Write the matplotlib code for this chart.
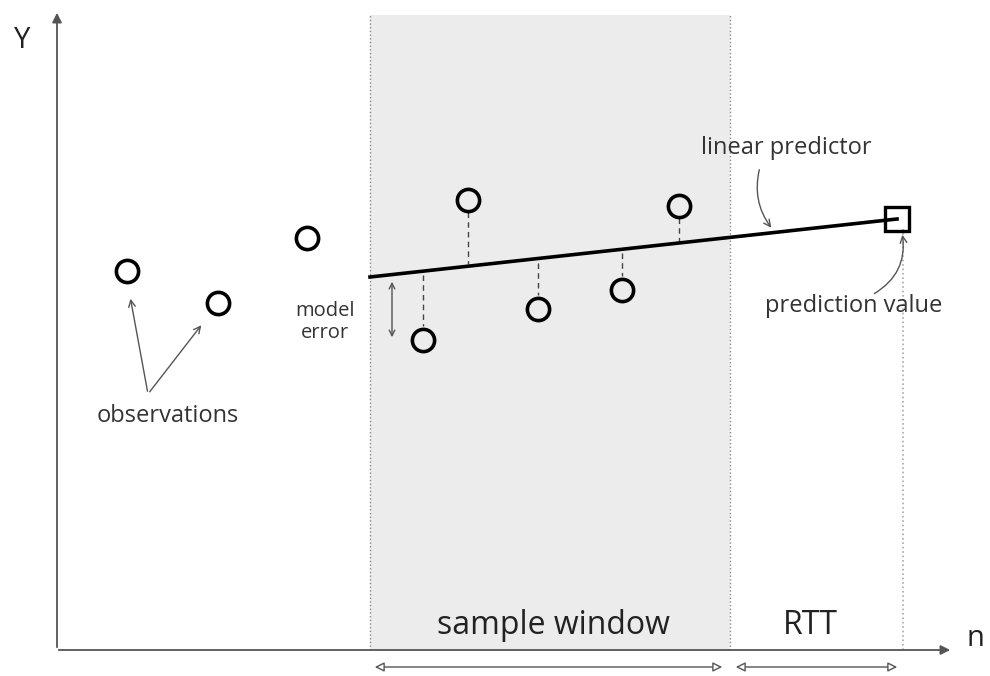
import matplotlib.pyplot as plt
import numpy as np

# observations (n, Y) - axis origin at (0, 0)
obs_n = [70, 161, 250, 366, 411, 481, 565, 622]
obs_y = [379, 347, 412, 310, 450, 341, 360, 444]
window_idx = [3, 4, 5, 6, 7]          # observations inside the sample window

window = (313, 673)                    # sample window span on n
rtt_end = 846                          # end of RTT span
line_start = (313, 373)                # linear predictor from ...
pred = (840, 431)                      # ... to prediction value

plt.rcParams['font.family'] = ['Open Sans', 'DejaVu Sans']
gray = '#555555'
txt = '#333333'

fig = plt.figure(figsize=(9.9, 6.76), dpi=100)
ax = fig.add_axes([0, 0, 1, 1])
ax.set_xlim(-57, 933)
ax.set_ylim(-26, 650)
ax.axis('off')

top = 635
# shaded sample window
ax.fill_between(window, 0, top, color='#ececec', lw=0, zorder=0)
ax.plot([window[0]] * 2, [0, top], ls=':', color='#888888', lw=1)
ax.plot([window[1]] * 2, [0, top], ls=':', color='#888888', lw=1)
ax.plot([rtt_end] * 2, [0, pred[1] - 10], ls=':', color='#aaaaaa', lw=1.2)

# axes with arrows
ax.annotate('', xy=(0, 640), xytext=(0, 0),
            arrowprops=dict(arrowstyle='-|>', color=gray, lw=1.3, mutation_scale=14))
ax.annotate('', xy=(896, 0), xytext=(-1, 0),
            arrowprops=dict(arrowstyle='-|>', color=gray, lw=1.3, mutation_scale=14))
ax.text(-35, 610, 'Y', fontsize=21, ha='center', va='center', color='#222222')
ax.text(918, 12, 'n', fontsize=21, ha='center', va='center', color='#222222')

# linear predictor
slope = (pred[1] - line_start[1]) / (pred[0] - line_start[0])
ax.plot([line_start[0], pred[0]], [line_start[1], pred[1]], color='black', lw=2.6, zorder=3)

# residual dashes
for i in window_idx:
    n, y = obs_n[i], obs_y[i]
    ly = line_start[1] + slope * (n - line_start[0])
    if y < ly:
        ax.plot([n, n], [ly - 4, y + 14], ls=(0, (4, 3)), color='#444444', lw=1)
    else:
        ax.plot([n, n], [y - 12, ly + 2], ls=(0, (4, 3)), color='#444444', lw=1)

ax.plot(obs_n, obs_y, 'o', ms=16, mfc='none', mec='black', mew=2.6, zorder=4)
ax.plot(pred[0], pred[1], 's', ms=17, mfc='none', mec='black', mew=2.4, zorder=4)

# model error arrow
ax.annotate('', xy=(335, 310), xytext=(335, 371),
            arrowprops=dict(arrowstyle='<->', color=gray, lw=1, mutation_scale=10))
ax.text(268, 339, 'model', fontsize=14.5, ha='center', va='center', color=txt)
ax.text(268, 317, 'error', fontsize=14.5, ha='center', va='center', color=txt)

# observations label
ax.text(111, 234, 'observations', fontsize=17, ha='center', va='center', color=txt)
ax.annotate('', xy=(73, 354), xytext=(91, 256),
            arrowprops=dict(arrowstyle='->', color=gray, lw=1, mutation_scale=12))
ax.annotate('', xy=(146, 327), xytext=(91, 256),
            arrowprops=dict(arrowstyle='->', color=gray, lw=1, mutation_scale=12))

# linear predictor label
ax.text(729, 502, 'linear predictor', fontsize=17, ha='center', va='center', color=txt)
ax.annotate('', xy=(716, 420), xytext=(703, 483),
            arrowprops=dict(arrowstyle='->', color=gray, lw=1, mutation_scale=12,
                            connectionstyle='arc3,rad=0.25'))

# prediction value label
ax.text(797, 344, 'prediction value', fontsize=17, ha='center', va='center', color=txt)
ax.annotate('', xy=(845, 418), xytext=(815, 355),
            arrowprops=dict(arrowstyle='->', color=gray, lw=1, mutation_scale=12,
                            connectionstyle='arc3,rad=0.35'))

# bottom labels and spans
ax.text(496, 24, 'sample window', fontsize=23, ha='center', va='center', color='#222222')
ax.text(753, 24, 'RTT', fontsize=23, ha='center', va='center', color='#222222')
ax.annotate('', xy=(window[1] - 5, -17), xytext=(window[0] + 2, -17),
            arrowprops=dict(arrowstyle='<|-|>', color=gray, lw=1, mutation_scale=14, fc='white'))
ax.annotate('', xy=(rtt_end - 3, -17), xytext=(window[1] + 3, -17),
            arrowprops=dict(arrowstyle='<|-|>', color=gray, lw=1, mutation_scale=14, fc='white'))

fig.savefig('out.png', dpi=100)
